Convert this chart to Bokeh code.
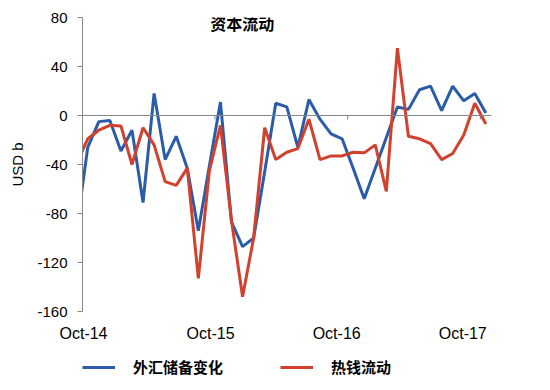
from bokeh.plotting import figure
from bokeh.layouts import column
from bokeh.models import Range1d, FixedTicker, Span, Label, Legend, LegendItem
from bokeh.embed import file_html
from bokeh.resources import INLINE

# Monthly data, Sep-14 .. Oct-17 (first point lies just left of the visible range)
months = ["Sep-14", "Oct-14", "Nov-14", "Dec-14", "Jan-15", "Feb-15", "Mar-15", "Apr-15",
          "May-15", "Jun-15", "Jul-15", "Aug-15", "Sep-15", "Oct-15", "Nov-15", "Dec-15",
          "Jan-16", "Feb-16", "Mar-16", "Apr-16", "May-16", "Jun-16", "Jul-16", "Aug-16",
          "Sep-16", "Oct-16", "Nov-16", "Dec-16", "Jan-17", "Feb-17", "Mar-17", "Apr-17",
          "May-17", "Jun-17", "Jul-17", "Aug-17", "Sep-17", "Oct-17"]
x_idx = list(range(-1, len(months) - 1))

fx_reserves = [-92, -26, -5, -4, -29, -12, -71, 18, -36, -17, -43, -94, -41, 11,
               -87, -107, -100, -46, 10, 7, -26, 13, -3, -15, -19, -43, -68, -43,
               -18, 7, 5, 21, 24, 4, 24, 12, 18, 2]
hot_money = [-39, -19, -12, -8, -8.5, -40, -10, -24, -54, -57, -43, -133, -45, -8,
             -86, -148, -100, -10, -36, -30, -27, -3, -36, -33, -33, -30, -30.5, -24,
             -62, 55, -17, -19, -23, -36, -31, -16, 10, -7]

y_ticks = [-160, -120, -80, -40, 0, 40, 80]
y_tick_labels = ["-160", "-120", "-80", "-40", "0", "40", "80"]
x_label_pos = [-0.385, 11.11, 22.51, 33.91]
x_labels = ["Oct-14", "Oct-15", "Oct-16", "Oct-17"]
zero_ticks = [11.5, 23.5, 35.5]

title_text = "资本流动"
series_names = ["外汇储备变化", "热钱流动"]

BLUE = "#2A5CAA"
RED = "#D2402E"
GRAY = "#868686"

p = figure(width=540, height=351, output_backend="svg", toolbar_location=None,
           x_range=Range1d(-0.475, 36.51), y_range=Range1d(-160, 80),
           min_border_left=82, min_border_right=49, min_border_top=17, min_border_bottom=40)
p.outline_line_color = None
p.xgrid.visible = False
p.ygrid.visible = False
p.background_fill_color = "white"
p.border_fill_color = "white"

# x axis: labels only
p.xaxis.ticker = FixedTicker(ticks=x_label_pos)
p.xaxis.major_label_overrides = {pos: lab for pos, lab in zip(x_label_pos, x_labels)}
p.xaxis.axis_line_color = None
p.xaxis.major_tick_line_color = None
p.xaxis.major_tick_out = 0
p.xaxis.major_tick_in = 0
p.xaxis.minor_tick_line_color = None
p.xaxis.major_label_standoff = 13
p.xaxis.major_label_text_font = "Liberation Sans"
p.xaxis.major_label_text_font_size = "16px"
p.xaxis.major_label_text_color = "#000000"

# y axis
p.yaxis.ticker = FixedTicker(ticks=y_ticks)
p.yaxis.major_label_overrides = {t: s for t, s in zip(y_ticks, y_tick_labels)}
p.yaxis.axis_line_color = GRAY
p.yaxis.major_tick_line_color = GRAY
p.yaxis.major_tick_out = 5
p.yaxis.major_tick_in = 0
p.yaxis.minor_tick_line_color = None
p.yaxis.major_label_standoff = 10
p.yaxis.major_label_text_font = "Liberation Sans"
p.yaxis.major_label_text_font_size = "15px"
p.yaxis.major_label_text_color = "#000000"
p.yaxis.axis_label = "USD b"
p.yaxis.axis_label_text_font = "Liberation Sans"
p.yaxis.axis_label_text_font_size = "15px"
p.yaxis.axis_label_text_font_style = "normal"
p.yaxis.axis_label_text_color = "#000000"
p.yaxis.axis_label_standoff = 8

# zero line with small category ticks
p.add_layout(Span(location=0, dimension="width", line_color=GRAY, line_width=1))
p.segment(x0=zero_ticks, y0=[0] * len(zero_ticks), x1=zero_ticks, y1=[-3.3] * len(zero_ticks),
          line_color=GRAY, line_width=1)

p.line(x_idx, fx_reserves, line_color=BLUE, line_width=3)
p.line(x_idx, hot_money, line_color=RED, line_width=3)

p.add_layout(Label(x=13.96, y=75.2, text=title_text, text_font="Noto Sans CJK SC",
                   text_font_size="16px", text_font_style="bold", text_align="center",
                   text_baseline="middle", text_color="#000000"))

# legend strip under the chart: same series, drawn outside this strip's visible range
lg = figure(width=540, height=35, output_backend="svg", toolbar_location=None,
            x_range=Range1d(0, 1), y_range=Range1d(1000, 1001),
            x_axis_location=None, y_axis_location=None,
            min_border_left=0, min_border_right=0, min_border_top=0, min_border_bottom=0)
lg.outline_line_color = None
lg.xgrid.visible = False
lg.ygrid.visible = False
k1 = lg.line(x_idx, fx_reserves, line_color=BLUE, line_width=3)
k2 = lg.line(x_idx, hot_money, line_color=RED, line_width=3)
legend = Legend(items=[LegendItem(label=series_names[0], renderers=[k1]),
                       LegendItem(label=series_names[1], renderers=[k2])],
                orientation="horizontal", glyph_width=33, glyph_height=20,
                label_height=20, label_standoff=18, spacing=57, padding=0, margin=0,
                border_line_color=None, background_fill_alpha=0,
                label_text_font="Noto Sans CJK SC", label_text_font_style="bold",
                label_text_font_size="15px", label_text_color="#000000",
                location=(0, 9))
lg.add_layout(legend)

open("out.html", "w").write(file_html(column(p, lg, spacing=0), INLINE))
